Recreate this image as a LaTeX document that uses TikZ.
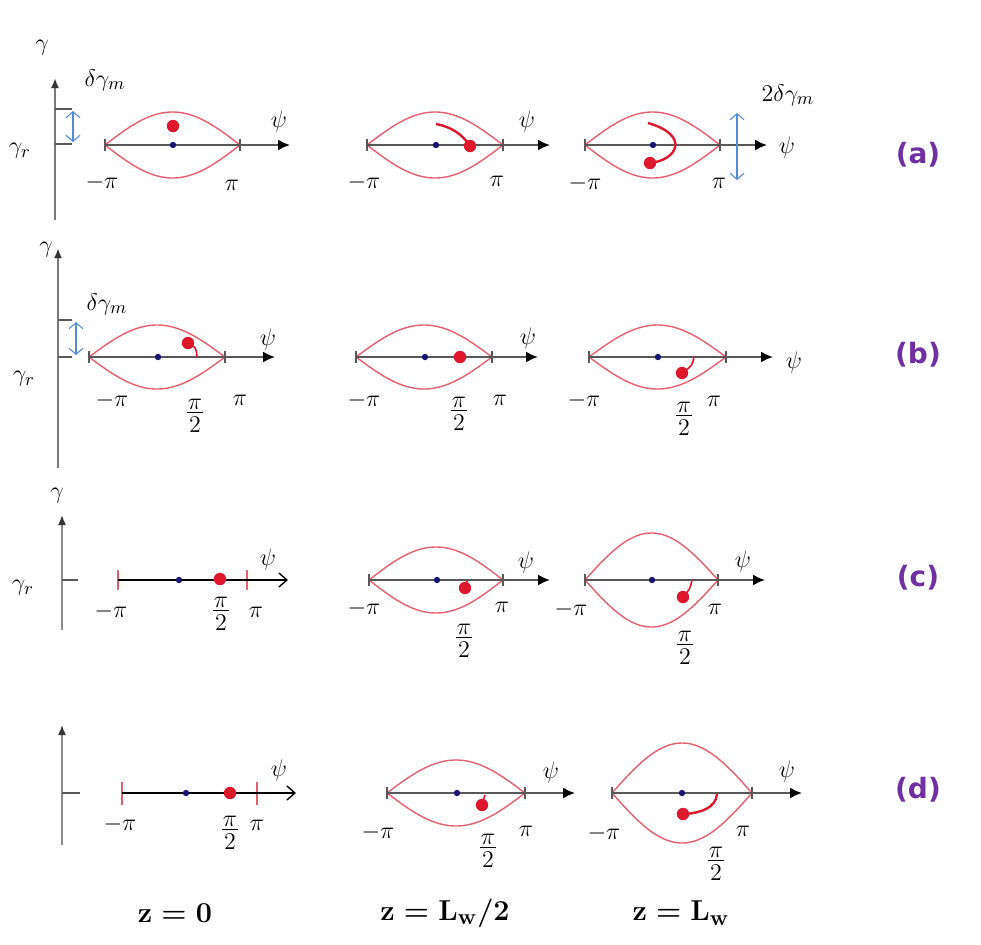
\documentclass[tikz,border=0pt]{standalone}
\usepackage{fontspec}
\newfontfamily\labfont{DejaVu Sans}
\usetikzlibrary{arrows.meta}
\definecolor{sepred}{RGB}{228,96,108}
\definecolor{dotred}{RGB}{222,24,44}
\definecolor{navy}{RGB}{22,22,112}
\definecolor{axgray}{RGB}{88,88,88}
\definecolor{vgray}{RGB}{120,120,120}
\definecolor{lblue}{RGB}{84,140,212}
\definecolor{labpurple}{RGB}{112,48,160}
\newcommand{\halfpi}{$\vcenter{\hbox to 0.62em{\hss$\pi$\hss}\kern1.2pt\hrule height 0.55pt\kern1.8pt\hbox to 0.62em{\hss$2$\hss}}$}
\newcommand{\lensplot}[5]{%
  \draw[sep] plot[domain=-1:1,samples=61] ({#1+#3*\x},{#2-#4*cos(90*\x)});
  \draw[sep] plot[domain=-1:1,samples=61] ({#1+#3*\x},{#2+#4*cos(90*\x)});
  \draw[haxis] ({#1-#3},#2) -- (#5,#2);
  \draw[endtick] ({#1-#3},{#2-6}) -- ({#1-#3},{#2+6});
  \draw[endtick] ({#1+#3},{#2-6}) -- ({#1+#3},{#2+6});
}
\newcommand{\zsize}{\fontsize{15}{18}\selectfont\boldmath}
\tikzset{
  sep/.style={draw=sepred,line width=0.7pt},
  haxis/.style={draw=axgray,line width=1pt,-{Latex[length=6pt,width=5.5pt,black]}},
  endtick/.style={draw=axgray,line width=0.8pt},
  vaxis/.style={draw=vgray,line width=1.1pt,-{Latex[length=5pt,width=4pt,black!80]}},
  vaxisthin/.style={draw=vgray!85,line width=0.8pt,-{Latex[length=5pt,width=4pt,black!80]}},
  gtick/.style={draw=axgray,line width=0.9pt},
  barrow/.style={draw=lblue,line width=0.55pt,{Straight Barb[length=3pt,width=7pt]}-{Straight Barb[length=3pt,width=7pt]}},
  tail/.style={draw=dotred,line width=1.2pt},
  thintail/.style={draw=dotred,line width=0.8pt},
  lab/.style={inner sep=0pt,font=\fontsize{13}{15}\selectfont},
  zlab/.style={inner sep=0pt,font=\zsize},
  rowlab/.style={inner sep=0pt,text=labpurple,font=\labfont\bfseries\fontsize{14}{16}\selectfont},
  redline/.style={draw=sepred,line width=1.3pt},
  redtick/.style={draw=sepred,line width=0.9pt},
  openaxis/.style={draw=black,line width=0.7pt,-{Straight Barb[length=4pt,width=7pt]}}
}
\newcommand{\reddot}[2]{\fill[dotred] (#1,#2) circle[radius=3.1pt];}
\newcommand{\bluedot}[2]{\fill[navy] (#1,#2) circle[radius=1.6pt];}
\begin{document}
\begin{tikzpicture}[x=0.5pt,y=-0.5pt]
\fill[white] (0,0) rectangle (981,944);
\useasboundingbox (0,0) rectangle (981,944);

% ---------------- Row (a) ----------------
\draw[vaxis] (55,220) -- (55,78);
\draw[gtick] (55,109) -- (72,109);
\draw[gtick] (55,144) -- (72,144);
\draw[barrow] (73,111) -- (73,142);
\node[lab] (ag) at (42,48) {$\gamma$};
\node[lab] (adg) at (105,80) {$\delta\gamma_m$};
\node[lab] (agr) at (20,151) {$\gamma_r$};

\lensplot{172.5}{145}{67.5}{33}{290}
\bluedot{173}{145}
\reddot{173}{126}
\node[lab] (a1psi) at (279,121) {$\psi$};
\node[lab] (a1mp) at (102,182) {$-\pi$};
\node[lab] (a1p) at (232,185) {$\pi$};

\lensplot{435}{145}{68}{33}{550}
\bluedot{436}{145}
\draw[tail] (436,124) .. controls (452,127) and (463,135) .. (470,146);
\reddot{470}{146}
\node[lab] (a2psi) at (527,121) {$\psi$};
\node[lab] (a2mp) at (364,182) {$-\pi$};
\node[lab] (a2p) at (497,181) {$\pi$};

\lensplot{652.5}{145}{67.5}{33}{767}
\bluedot{653}{145}
\draw[tail] (648,123) .. controls (690,135) and (678,160) .. (650,163);
\reddot{650}{163}
\draw[barrow] (737,113) -- (737,180);
\node[lab] (a3psi) at (787,147) {$\psi$};
\node[lab] (a3mp) at (585,183) {$-\pi$};
\node[lab] (a3p) at (719,183) {$\pi$};
\node[lab] (a3dg) at (788,95) {$2\delta\gamma_m$};
\node[rowlab] (rla) at (918,155) {(a)};

% ---------------- Row (b) ----------------
\draw[vaxis] (58,468) -- (58,248);
\draw[gtick] (58,320) -- (72,320);
\draw[gtick] (58,357) -- (72,357);
\draw[barrow] (76,322) -- (76,355);
\node[lab] (bg) at (46,250) {$\gamma$};
\node[lab] (bdg) at (107,304) {$\delta\gamma_m$};
\node[lab] (bgr) at (24,379) {$\gamma_r$};

\lensplot{157}{357}{68}{32}{275}
\bluedot{158}{357}
\draw[thintail] (189,345) .. controls (196,347) .. (197,357);
\reddot{188}{343}
\node[lab] (b1psi) at (268,339) {$\psi$};
\node[lab] (b1mp) at (112,400) {$-\pi$};
\node[lab] (b1h) at (195,416) {\halfpi};
\node[lab] (b1p) at (240,400) {$\pi$};

\lensplot{424}{357}{68}{32}{538}
\bluedot{425}{357}
\reddot{460}{357}
\node[lab] (b2psi) at (528,338) {$\psi$};
\node[lab] (b2mp) at (364,400) {$-\pi$};
\node[lab] (b2h) at (459,414) {\halfpi};
\node[lab] (b2p) at (500,400) {$\pi$};

\lensplot{657.5}{357}{68.5}{32}{773}
\bluedot{658}{357}
\draw[thintail] (694,357) .. controls (692,366) .. (683,372);
\reddot{682}{373}
\node[lab] (b3psi) at (794,362) {$\psi$};
\node[lab] (b3mp) at (584,400) {$-\pi$};
\node[lab] (b3h) at (684,419) {\halfpi};
\node[lab] (b3p) at (714,401) {$\pi$};
\node[rowlab] (rlb) at (918,355) {(b)};

% ---------------- Row (c) ----------------
\draw[vaxisthin] (62,630) -- (62,515);
\draw[gtick] (62,580) -- (78,580);
\node[lab] (cg) at (57,496) {$\gamma$};
\node[lab] (cgr) at (23,588) {$\gamma_r$};
\draw[redline] (118,580) -- (247,580);
\draw[redtick] (118,570) -- (118,590);
\draw[redtick] (247,570) -- (247,590);
\draw[openaxis] (118,580) -- (288,580);
\bluedot{179}{580}
\reddot{220}{579}
\node[lab] (c1psi) at (268,559) {$\psi$};
\node[lab] (c1mp) at (111,611) {$-\pi$};
\node[lab] (c1h) at (221,614) {\halfpi};
\node[lab] (c1p) at (256,612) {$\pi$};

\lensplot{436}{580}{67}{33}{550}
\bluedot{437}{580}
\draw[thintail] (467,581) -- (465,588);
\reddot{465}{588}
\node[lab] (c2psi) at (526,562) {$\psi$};
\node[lab] (c2mp) at (364,608) {$-\pi$};
\node[lab] (c2h) at (464,641) {\halfpi};
\node[lab] (c2p) at (502,607) {$\pi$};

\lensplot{651.5}{580}{66.5}{47}{765}
\bluedot{652}{580}
\draw[thintail] (692,580) .. controls (690,589) .. (683,597);
\reddot{683}{597}
\node[lab] (c3psi) at (743,561) {$\psi$};
\node[lab] (c3mp) at (571,609) {$-\pi$};
\node[lab] (c3h) at (685,648) {\halfpi};
\node[lab] (c3p) at (715,609) {$\pi$};
\node[rowlab] (rlc) at (918,578) {(c)};

% ---------------- Row (d) ----------------
\draw[vaxisthin] (62,845) -- (62,725);
\draw[gtick] (62,793) -- (80,793);
\draw[redline] (122,793) -- (257,793);
\draw[redtick] (122,782) -- (122,805);
\draw[redtick] (257,782) -- (257,805);
\draw[openaxis] (122,793) -- (296,793);
\bluedot{186}{793}
\reddot{230}{793}
\node[lab] (d1psi) at (279,770) {$\psi$};
\node[lab] (d1mp) at (120,824) {$-\pi$};
\node[lab] (d1h) at (230,833) {\halfpi};
\node[lab] (d1p) at (257,825) {$\pi$};

\lensplot{456}{793}{69}{33}{575}
\bluedot{457}{793}
\draw[thintail] (485,795) -- (482,805);
\reddot{482}{805}
\node[lab] (d2psi) at (551,772) {$\psi$};
\node[lab] (d2mp) at (378,832) {$-\pi$};
\node[lab] (d2h) at (488,851) {\halfpi};
\node[lab] (d2p) at (526,831) {$\pi$};

\lensplot{682}{793}{70}{50}{802}
\bluedot{682}{793}
\draw[tail] (717,794) .. controls (716,808) and (700,813) .. (685,814);
\reddot{683}{814}
\node[lab] (d3psi) at (787,771) {$\psi$};
\node[lab] (d3mp) at (604,833) {$-\pi$};
\node[lab] (d3h) at (716,864) {\halfpi};
\node[lab] (d3p) at (743,831) {$\pi$};
\node[rowlab] (rld) at (918,790) {(d)};

% ---------------- bottom labels ----------------
\node[zlab] (zzero) at (175,913) {$\mathbf{z}=\mathbf{0}$};
\node[zlab] (zhalf) at (445,913) {$\mathbf{z}=\mathbf{L}_{\mathbf{w}}/\mathbf{2}$};
\node[zlab] (zfull) at (681,913) {$\mathbf{z}=\mathbf{L}_{\mathbf{w}}$};
\end{tikzpicture}
\end{document}
